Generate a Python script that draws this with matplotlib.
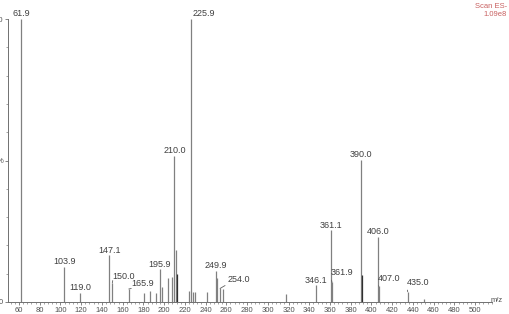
import matplotlib
matplotlib.use("Agg")
import matplotlib.pyplot as plt
from matplotlib.ticker import MultipleLocator

plt.rcParams['font.family'] = ['Liberation Sans', 'DejaVu Sans']

# 质谱数据 (m/z, 相对强度 %)
mz = [61.9, 103.9, 119.0, 147.1, 150.0, 165.9, 180.8, 186.3, 192.0, 195.9,
      197.6, 203.4, 207.9, 210.0, 211.0, 212.0, 224.3, 225.9, 228.1, 229.5,
      241.0, 249.9, 251.3, 254.0, 257.1, 317.5, 346.1, 361.1, 361.9, 390.0,
      391.0, 406.0, 407.0, 435.0, 450.7]
intensity = [100, 12.5, 3.2, 16.6, 6.7, 4.6, 3.2, 4.0, 3.3, 11.5,
             5.3, 8.4, 8.9, 51.6, 18.4, 10.0, 4.0, 100, 3.5, 3.5,
             3.5, 11.0, 8.6, 4.8, 4.5, 2.8, 6.0, 25.4, 7.0, 50.2,
             9.5, 23.0, 5.6, 3.6, 1.2]
dark_peaks = [212.0, 391.0]

# 标注的峰
labeled = [61.9, 103.9, 119.0, 147.1, 150.0, 165.9, 195.9, 210.0, 225.9,
           249.9, 254.0, 346.1, 361.1, 361.9, 390.0, 406.0, 407.0, 435.0]
# 带引线的标注 -> 偏移 (像素)
leader_offsets = {150.0: (11.7, 7), 165.9: (13.8, 5), 254.0: (19, 9),
                  361.9: (10.3, 9.3), 407.0: (10, 7.7), 435.0: (10.3, 9)}
shifted_offsets = {225.9: (13, 6), 61.9: (0, 6)}

W, H = 509, 314
fig = plt.figure(figsize=(W / 100, H / 100), dpi=100)
ax = fig.add_axes([8 / W, 12 / H, (491.7 - 8) / W, 283 / H])

colors = ['#303030' if m in dark_peaks else '#808080' for m in mz]
ax.vlines(mz, 0, intensity, colors=colors, linewidth=0.9)

px = 0.72  # 1 像素 = 0.72 点
for m, h in zip(mz, intensity):
    if m not in labeled:
        continue
    txt = '%.1f' % m
    if m in leader_offsets:
        dx, dy = leader_offsets[m]
        ax.annotate(txt, xy=(m, h), xytext=(dx * px, dy * px),
                    textcoords='offset points', ha='center', va='center',
                    fontsize=6.5, color='#404040',
                    arrowprops=dict(arrowstyle='-', color='#606060', lw=0.6,
                                    shrinkA=0, shrinkB=0, relpos=(0, 0)))
    else:
        dx, dy = shifted_offsets.get(m, (0, 5))
        ax.annotate(txt, xy=(m, h), xytext=(dx * px, dy * px),
                    textcoords='offset points', ha='center', va='center',
                    fontsize=6.5, color='#404040', annotation_clip=False)

# 坐标轴
ax.set_xlim(49.4, 516)
ax.set_ylim(0, 100)
ax.set_xticks(range(60, 501, 20))
ax.xaxis.set_minor_locator(MultipleLocator(4))
ax.set_yticks([0, 50, 100])
ax.set_yticklabels(['0', '%', '100'])
ax.yaxis.set_minor_locator(MultipleLocator(10))
for s in ['top', 'right']:
    ax.spines[s].set_visible(False)
for s in ['left', 'bottom']:
    ax.spines[s].set_color('#707070')
    ax.spines[s].set_linewidth(0.7)
ax.tick_params(axis='both', which='major', length=2.5, width=0.6,
               color='#707070', labelsize=5.5, labelcolor='#505050', pad=1)
ax.tick_params(axis='both', which='minor', length=1.5, width=0.5,
               color='#808080')

fig.text(497 / W, 1 - 300 / H, 'm/z', ha='center', va='center',
         fontsize=5.5, color='#505050')
fig.text(507 / W, 1 - 6 / H, 'Scan ES-', ha='right', va='center',
         fontsize=5.5, color='#c86060')
fig.text(507 / W, 1 - 14.5 / H, '1.09e8', ha='right', va='center',
         fontsize=5.5, color='#c86060')

fig.savefig('out.png', dpi=100)
